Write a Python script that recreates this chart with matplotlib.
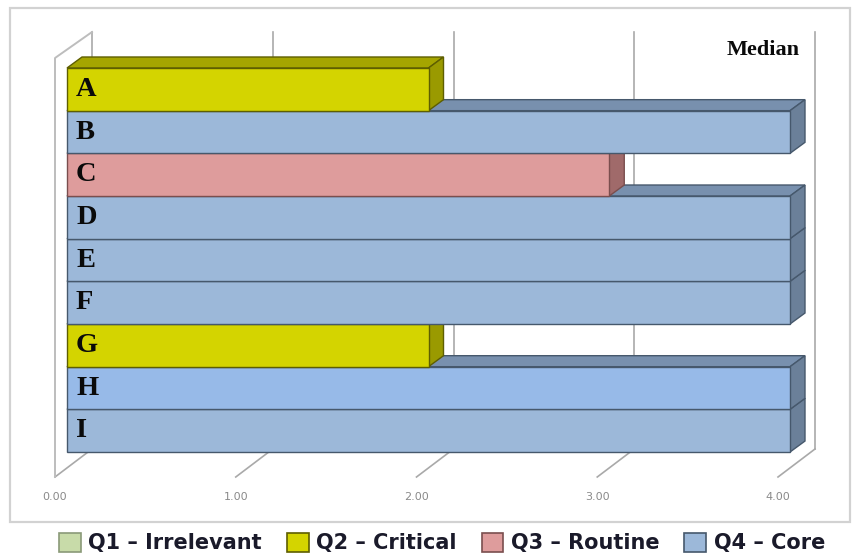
import matplotlib
matplotlib.use("Agg")
import matplotlib.pyplot as plt
from matplotlib.patches import Polygon, Patch, Rectangle


labels = ["A", "B", "C", "D", "E", "F", "G", "H", "I"]
medians = [2, 4, 3, 4, 4, 4, 2, 4, 4]
quadrant = ["Q2", "Q4", "Q3", "Q4", "Q4", "Q4", "Q2", "Q4", "Q4"]
ticks = [0, 1, 2, 3, 4]
tick_labels = ["0.00", "1.00", "2.00", "3.00", "4.00"]
legend_keys = ["Q1", "Q2", "Q3", "Q4"]
legend_names = ["Q1 – Irrelevant", "Q2 – Critical", "Q3 – Routine", "Q4 – Core"]

# canvas in pixels, value 0 sits at X0, one unit is UNIT px wide
W, H = 856, 559
X0, UNIT = 67, 180.75
TOP, ROW = 68, 42.67

face = {"Q1": "#C8DBA9", "Q2": "#D4D400", "Q3": "#DE9C9C", "Q4": "#9CB8D9"}
side = {"Q2": "#9A9A00", "Q3": "#A06A6A", "Q4": "#6B8099"}
top = {"Q2": "#A5A500", "Q3": "#B47A7A", "Q4": "#7890AE"}
edge = {"Q1": "#8A9A78", "Q2": "#5E5E00", "Q3": "#7A4E4E", "Q4": "#46586C"}
highlight = {"H": "#97BAE8"}


def py(p):
    # pixel row -> data y
    return (p - TOP) / ROW - 0.5


def ox(p):
    # pixel offset -> data x offset
    return p / UNIT


fig = plt.figure(figsize=(W / 100, H / 100), dpi=100)
ax = fig.add_axes([0, 0, 1, 1])
ax.set_xlim(-X0 / UNIT, (W - X0) / UNIT)
ax.set_ylim(py(H), py(0))
ax.axis("off")

# outer frame
fig.add_artist(Rectangle((10 / W, 1 - 522 / H), 840 / W, 514 / H,
                         transform=fig.transFigure, fill=False,
                         ec="#D2D2D2", lw=1.6))

grid_c = "#A9A9A9"
# back wall grid + floor lines + tick labels
for v, lab in zip(ticks, tick_labels):
    ax.plot([v + ox(25), v + ox(25)], [py(32), py(449)], color=grid_c, lw=1.2, zorder=1)
    ax.plot([v - ox(12), v + ox(25)], [py(477), py(449)], color=grid_c, lw=1.2, zorder=1)
    ax.text(v - ox(12), py(497), lab, ha="center", va="center",
            color="#8A8A8A", fontsize=8)

# left wall
ax.plot([-ox(12), -ox(12), ox(25)], [py(477), py(58), py(32)], color="#BDBDBD", lw=1.4, zorder=2)

# 3d bars, drawn bottom up so the bar above covers the top face below
dx, dy = ox(15), 11 / ROW
n = len(labels)
for i in range(n - 1, -1, -1):
    q = quadrant[i]
    v = medians[i]
    y0, y1 = i - 0.5, i + 0.5
    z = 10 + (n - i) * 3
    ax.add_patch(Polygon([(0, y0), (v, y0), (v + dx, y0 - dy), (dx, y0 - dy)],
                         closed=True, fc=top[q], ec=edge[q], lw=1, zorder=z))
    ax.add_patch(Polygon([(v, y0), (v, y1), (v + dx, y1 - dy), (v + dx, y0 - dy)],
                         closed=True, fc=side[q], ec=edge[q], lw=1, zorder=z + 1))
    ax.barh(i, v, height=1, left=0, color=highlight.get(labels[i], face[q]),
            edgecolor=edge[q], lw=1, zorder=z + 2)
    ax.text(ox(9), i, labels[i], ha="left", va="center",
            fontfamily="Liberation Serif", fontweight="bold", fontsize=20.5,
            color="#0A0A0A", zorder=100)

ax.text(ox(800 - X0), py(50), "Median", ha="right", va="center",
        fontfamily="Liberation Serif", fontweight="bold", fontsize=16, color="#0A0A0A")

handles = [Patch(fc=face[k], ec=edge[k], lw=1.2) for k in legend_keys]
leg = fig.legend(handles, legend_names, loc="center", bbox_to_anchor=(442 / W, 1 - 543 / H),
                 ncol=4, frameon=False,
                 prop=dict(family="DejaVu Sans", weight="bold", size=15),
                 handlelength=1.05, handleheight=1.05, handletextpad=0.35,
                 columnspacing=1.2, borderpad=0)
for t in leg.get_texts():
    t.set_color("#1A1A2A")

fig.savefig("out.png", dpi=100)
